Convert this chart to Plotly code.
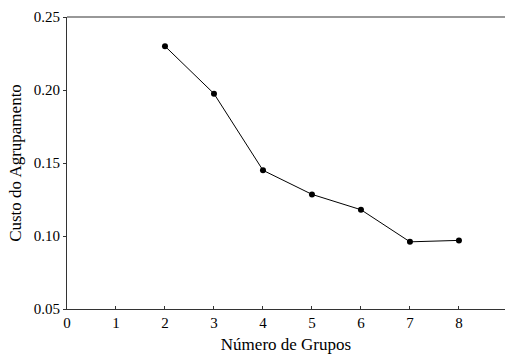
import plotly.graph_objects as go

# Clustering cost per number of groups
num_groups = [2, 3, 4, 5, 6, 7, 8]
cost = [0.230, 0.1975, 0.145, 0.1285, 0.118, 0.096, 0.097]

x_ticks = [0, 1, 2, 3, 4, 5, 6, 7, 8]
y_ticks = [0.05, 0.10, 0.15, 0.20, 0.25]
y_tick_text = ["0.05", "0.10", "0.15", "0.20", "0.25"]

serif = "Liberation Serif, Times New Roman, serif"

fig = go.Figure(
    go.Scatter(
        x=num_groups,
        y=cost,
        mode="lines+markers",
        line=dict(color="black", width=1),
        marker=dict(color="black", size=6),
        cliponaxis=False,
    )
)

fig.update_layout(
    template="none",
    width=505,
    height=356,
    margin=dict(l=67, r=0, t=17, b=47),
    paper_bgcolor="white",
    plot_bgcolor="white",
    showlegend=False,
    font=dict(family=serif, size=15, color="black"),
)

# top frame line of the plot area (no right-hand frame)
fig.add_shape(
    type="line", xref="paper", yref="paper",
    x0=0, x1=1, y0=1, y1=1,
    line=dict(color="#333", width=1.2),
)

fig.update_xaxes(
    range=[0, 8.94],
    tickvals=x_ticks,
    ticks="inside",
    ticklen=3,
    tickcolor="#333",
    showline=True,
    linecolor="#333",
    linewidth=1.2,
    mirror=False,
    showgrid=False,
    zeroline=False,
    tickfont=dict(family=serif, size=15),
    title=dict(text="Número de Grupos", font=dict(family=serif, size=17), standoff=8),
)

fig.update_yaxes(
    range=[0.05, 0.25],
    tickvals=y_ticks,
    ticktext=y_tick_text,
    ticks="outside",
    ticklen=3,
    tickcolor="#333",
    showline=True,
    linecolor="#333",
    linewidth=1.2,
    mirror=False,
    showgrid=False,
    zeroline=False,
    tickfont=dict(family=serif, size=15),
    title=dict(text="Custo do Agrupamento", font=dict(family=serif, size=17), standoff=7),
)

fig.write_html("out.html")
